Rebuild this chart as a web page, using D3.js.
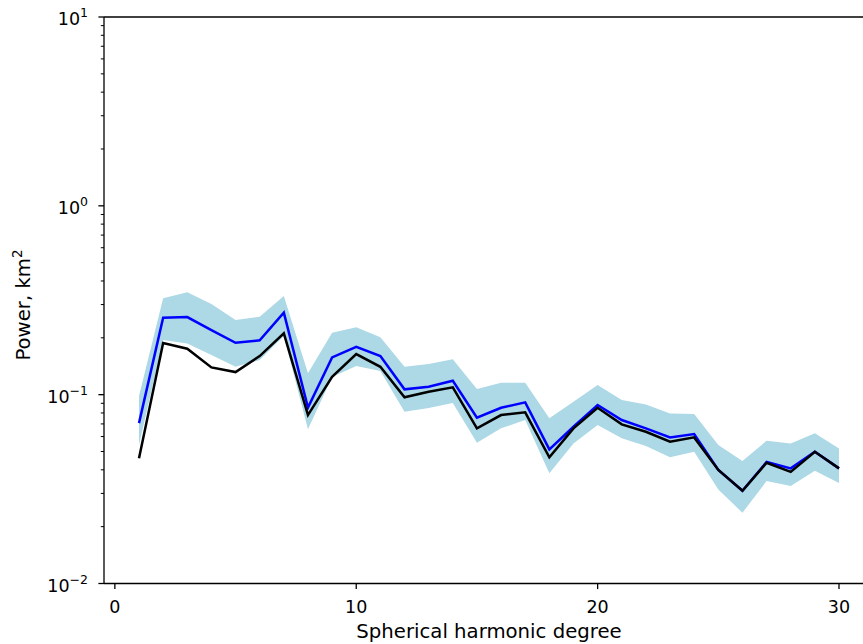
<!DOCTYPE html>
<html><head><meta charset="utf-8">
<script src="https://cdn.jsdelivr.net/npm/d3@7"></script>
<style>body{margin:0;background:#fff;}svg{display:block;font-family:"DejaVu Sans",sans-serif;}</style>
</head><body><svg id="c" width="863" height="644"></svg>
<script>
const degrees = d3.range(1, 31);
const bluePower = [0.0707,0.2555,0.2576,0.2198,0.1883,0.1939,0.2716,0.0855,0.1576,0.1793,0.1601,0.1067,0.1101,0.1185,0.0756,0.0852,0.0910,0.0513,0.0676,0.0881,0.0734,0.0663,0.0594,0.0619,0.0399,0.0310,0.0440,0.0407,0.0498,0.0407];
const blackPower = [0.0460,0.1876,0.1751,0.1395,0.1317,0.1601,0.2112,0.0780,0.1244,0.1641,0.1405,0.0968,0.1036,0.1093,0.0663,0.0780,0.0806,0.0466,0.0663,0.0852,0.0696,0.0636,0.0563,0.0594,0.0399,0.0310,0.0436,0.0390,0.0498,0.0407];
const bandUpper = [0.0983,0.3236,0.3482,0.3019,0.2484,0.2586,0.3329,0.1297,0.2128,0.2273,0.2012,0.1405,0.1452,0.1538,0.1071,0.1156,0.1156,0.0749,0.0917,0.1124,0.0936,0.0888,0.0796,0.0789,0.0541,0.0445,0.0570,0.0552,0.0624,0.0519];
const bandLower = [0.0541,0.1946,0.1869,0.1621,0.1405,0.1525,0.2043,0.0655,0.1239,0.1417,0.1334,0.0812,0.0849,0.0903,0.0556,0.0663,0.0734,0.0383,0.0552,0.0690,0.0587,0.0534,0.0466,0.0498,0.0315,0.0237,0.0349,0.0328,0.0395,0.0341];
const xTicks = [0, 10, 20, 30];
const yTickExps = [-2, -1, 0, 1];

const svg = d3.select("#c");
const L = 104, T = 17, B = 583.5, R = 874;
const x = d3.scaleLinear().domain([-0.45, 31.45]).range([L, R]);
const y = d3.scaleLog().domain([1e-2, 1e1]).range([B, T]);

const g = svg.append("g");
const area = d3.area().x((d,i)=>x(degrees[i])).y0((d,i)=>y(bandLower[i])).y1((d,i)=>y(bandUpper[i]));
g.append("path").datum(bandUpper).attr("d", area).attr("fill", "#add8e6");
const line = arr => d3.line().x((d,i)=>x(degrees[i])).y(d=>y(d))(arr);
g.append("path").attr("d", line(bluePower)).attr("fill","none").attr("stroke","#0000ff").attr("stroke-width",2.5);
g.append("path").attr("d", line(blackPower)).attr("fill","none").attr("stroke","#000").attr("stroke-width",2.5);

// spines
svg.append("line").attr("x1",L).attr("x2",R).attr("y1",T).attr("y2",T).attr("stroke","#000").attr("stroke-width",1.3);
svg.append("line").attr("x1",L).attr("x2",R).attr("y1",B).attr("y2",B).attr("stroke","#000").attr("stroke-width",1.3);
svg.append("line").attr("x1",L).attr("x2",L).attr("y1",T).attr("y2",B).attr("stroke","#000").attr("stroke-width",1.3);

// x ticks
const xa = svg.append("g");
xTicks.forEach(t => {
  xa.append("line").attr("x1",x(t)).attr("x2",x(t)).attr("y1",B).attr("y2",B+5.6).attr("stroke","#000").attr("stroke-width",1.3);
  xa.append("text").attr("x",x(t)).attr("y",B+29).attr("text-anchor","middle").attr("font-size",17.5).attr("fill","#000").text(t);
});
svg.append("text").attr("x",(L+R)/2).attr("y",638).attr("text-anchor","middle").attr("font-size",19.7).text("Spherical harmonic degree");

// y ticks
const ya = svg.append("g");
yTickExps.forEach(e => {
  const yy = y(Math.pow(10,e));
  ya.append("line").attr("x1",L-5.6).attr("x2",L).attr("y1",yy).attr("y2",yy).attr("stroke","#000").attr("stroke-width",1.3);
  const tx = ya.append("text").attr("x",L-16).attr("y",yy+8).attr("text-anchor","end").attr("font-size",17.5);
  tx.append("tspan").text("10");
  tx.append("tspan").attr("dy",-8).attr("font-size",12.5).text(e < 0 ? "\u2212" + (-e) : String(e));
  if (e < 1) {
    for (let k = 2; k <= 9; k++) {
      const my = y(k * Math.pow(10,e));
      ya.append("line").attr("x1",L-3.2).attr("x2",L).attr("y1",my).attr("y2",my).attr("stroke","#000").attr("stroke-width",1);
    }
  }
});
const yl = svg.append("text").attr("transform","translate(30,305) rotate(-90)").attr("text-anchor","middle").attr("font-size",19.7);
yl.append("tspan").text("Power, km");
yl.append("tspan").attr("dy",-8).attr("font-size",13.5).text("2");
</script></body></html>
